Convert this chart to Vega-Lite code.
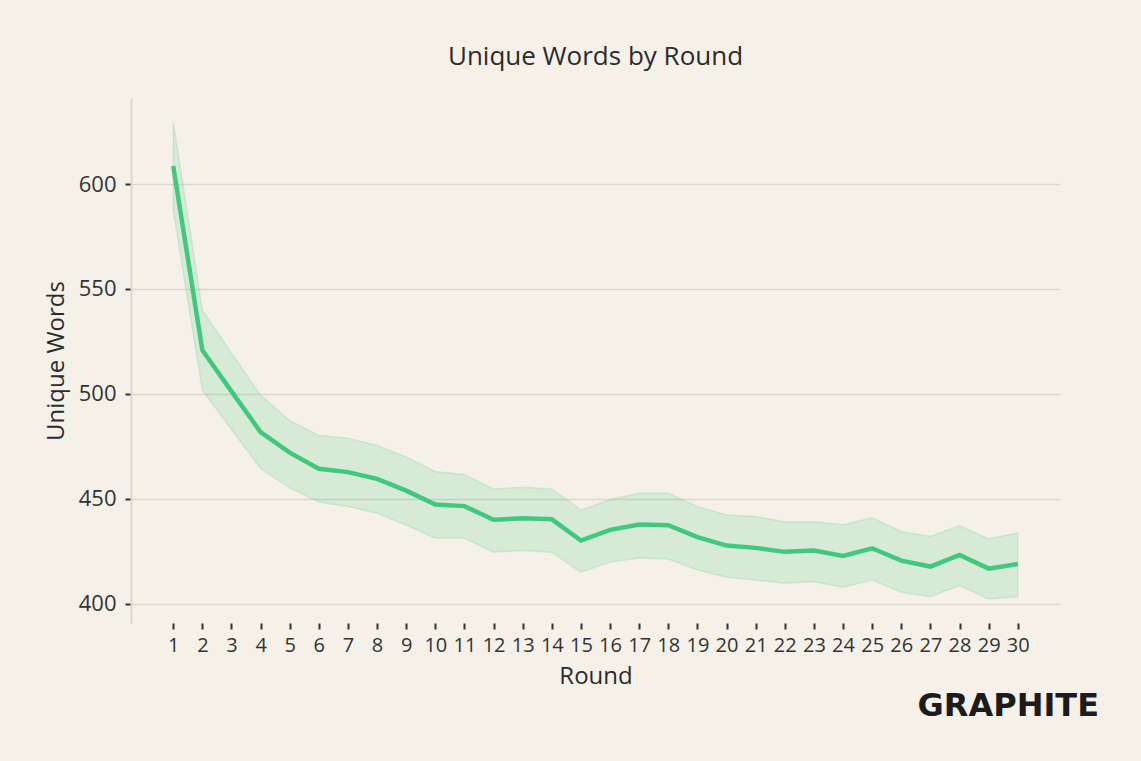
{
  "$schema": "https://vega.github.io/schema/vega-lite/v6.json",
  "autosize": {"type": "none"},
  "width": 929,
  "height": 525,
  "padding": {"left": 131, "top": 98, "right": 81, "bottom": 138},
  "background": "#f5f1e9",
  "title": {
    "text": "Unique Words by Round",
    "fontSize": 26,
    "font": "Open Sans",
    "fontWeight": 400,
    "color": "#2b2b2b",
    "offset": 28,
    "anchor": "middle"
  },
  "config": {
    "view": {"stroke": null},
    "font": "Open Sans",
    "axis": {
      "labelFont": "Open Sans",
      "titleFont": "Open Sans",
      "labelFontSize": 20,
      "titleFontSize": 24,
      "titleFontWeight": 400,
      "labelColor": "#333333",
      "titleColor": "#2b2b2b",
      "tickColor": "#333333",
      "tickSize": 6,
      "tickWidth": 2
    }
  },
  "data": {
    "values": [
      {"round": 1, "mean": 608.6, "lo": 587.6, "hi": 629.6},
      {"round": 2, "mean": 520.8, "lo": 501.7, "hi": 539.9},
      {"round": 3, "mean": 501.2, "lo": 483.0, "hi": 519.5},
      {"round": 4, "mean": 481.8, "lo": 464.3, "hi": 499.3},
      {"round": 5, "mean": 472.0, "lo": 455.2, "hi": 487.3},
      {"round": 6, "mean": 464.3, "lo": 448.4, "hi": 480.2},
      {"round": 7, "mean": 462.7, "lo": 446.3, "hi": 478.9},
      {"round": 8, "mean": 459.5, "lo": 443.1, "hi": 475.4},
      {"round": 9, "mean": 453.9, "lo": 437.5, "hi": 469.9},
      {"round": 10, "mean": 447.3, "lo": 431.2, "hi": 463.0},
      {"round": 11, "mean": 446.5, "lo": 431.2, "hi": 461.6},
      {"round": 12, "mean": 440.0, "lo": 424.5, "hi": 454.7},
      {"round": 13, "mean": 440.7, "lo": 425.3, "hi": 455.5},
      {"round": 14, "mean": 440.2, "lo": 424.5, "hi": 454.7},
      {"round": 15, "mean": 430.1, "lo": 415.0, "hi": 444.7},
      {"round": 16, "mean": 435.2, "lo": 419.7, "hi": 449.5},
      {"round": 17, "mean": 437.7, "lo": 421.8, "hi": 452.7},
      {"round": 18, "mean": 437.4, "lo": 421.3, "hi": 452.7},
      {"round": 19, "mean": 431.7, "lo": 416.1, "hi": 446.3},
      {"round": 20, "mean": 427.7, "lo": 412.6, "hi": 442.3},
      {"round": 21, "mean": 426.6, "lo": 411.3, "hi": 441.5},
      {"round": 22, "mean": 424.7, "lo": 409.7, "hi": 439.1},
      {"round": 23, "mean": 425.3, "lo": 410.5, "hi": 439.1},
      {"round": 24, "mean": 422.8, "lo": 407.8, "hi": 437.6},
      {"round": 25, "mean": 426.4, "lo": 411.3, "hi": 440.9},
      {"round": 26, "mean": 420.5, "lo": 405.4, "hi": 434.4},
      {"round": 27, "mean": 417.7, "lo": 403.3, "hi": 432.1},
      {"round": 28, "mean": 423.2, "lo": 408.6, "hi": 437.2},
      {"round": 29, "mean": 416.7, "lo": 402.2, "hi": 430.9},
      {"round": 30, "mean": 418.9, "lo": 403.3, "hi": 433.7}
    ]
  },
  "layer": [
    {
      "mark": {"type": "area", "color": "#40c97d", "fillOpacity": 0.17, "stroke": "#40c97d", "strokeOpacity": 0.18, "strokeWidth": 1.5},
      "encoding": {
        "x": {
          "field": "round",
          "type": "quantitative",
          "scale": {"domain": [-0.45, 31.45], "nice": false, "zero": false},
          "axis": {
            "title": "Round",
            "values": [1,2,3,4,5,6,7,8,9,10,11,12,13,14,15,16,17,18,19,20,21,22,23,24,25,26,27,28,29,30],
            "tickCount": 40,
            "labelAngle": 0,
            "grid": false,
            "domain": false,
            "labelPadding": 6,
            "titlePadding": 9,
            "labelFlush": false,
            "labelOverlap": false
          }
        },
        "y": {
          "field": "hi",
          "type": "quantitative",
          "scale": {"domain": [390.8, 641], "nice": false, "zero": false},
          "axis": {
            "title": "Unique Words",
            "values": [400, 450, 500, 550, 600],
            "grid": true,
            "gridColor": "#ddd7cd",
            "gridWidth": 1.5,
            "domainColor": "#ddd7cd",
            "domainWidth": 2,
            "labelFontSize": 22,
            "labelPadding": 9,
            "titlePadding": 10
          }
        },
        "y2": {"field": "lo"}
      }
    },
    {
      "mark": {"type": "line", "color": "#40c97d", "strokeWidth": 4.5},
      "encoding": {
        "x": {"field": "round", "type": "quantitative"},
        "y": {"field": "mean", "type": "quantitative"}
      }
    },
    {
      "data": {"values": [{"logo": "GRAPHITE"}]},
      "mark": {"type": "text", "clip": false, "font": "DejaVu Sans", "fontWeight": "bold", "fontSize": 32, "color": "#1c1c1c", "align": "right", "baseline": "middle"},
      "encoding": {
        "text": {"field": "logo", "type": "nominal"},
        "x": {"datum": 32.79, "type": "quantitative"},
        "y": {"datum": 351.1, "type": "quantitative"}
      }
    }
  ]
}
